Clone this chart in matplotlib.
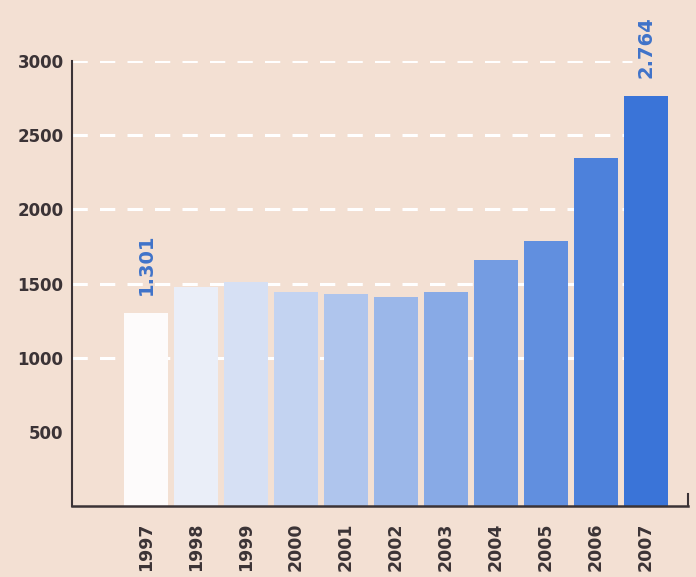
import matplotlib
matplotlib.use("Agg")
import matplotlib.pyplot as plt
from matplotlib.colors import LinearSegmentedColormap
import numpy as np

years = ["1997", "1998", "1999", "2000", "2001", "2002", "2003", "2004", "2005", "2006", "2007"]
values = [1301, 1480, 1510, 1446, 1432, 1412, 1446, 1662, 1784, 2345, 2764]
yticks = [500, 1000, 1500, 2000, 2500, 3000]
labelled = {0: "1.301", 10: "2.764"}

bg = "#f3e0d3"
txt = "#3b3336"
blue_txt = "#3f73c9"

fig = plt.figure(figsize=(6.96, 5.77), dpi=100, facecolor=bg)
ax = fig.add_axes([0.1034, 0.123, 0.885, 0.771])
ax.set_facecolor(bg)

x = np.arange(len(years))
cmap = LinearSegmentedColormap.from_list("fade", ["#fdfbfb", "#3a74d8"])
colors = [cmap(i / (len(years) - 1)) for i in range(len(years))]

# dashed white guides behind the bars
for t in yticks[1:]:
    ax.axhline(t, xmax=0.91, color="white", lw=2.2, ls=(0, (5, 4)), zorder=1)

ax.bar(x, values, width=0.89, color=colors, zorder=2)

for i, s in labelled.items():
    ax.text(x[i], values[i] + 125, s, rotation=90, ha="center", va="bottom",
            color=blue_txt, fontsize=14, fontweight="bold", clip_on=False)

ax.set_xlim(-1.48, 10.84)
ax.set_ylim(0, 3000)
ax.set_yticks(yticks)
ax.set_yticklabels([str(t) for t in yticks], fontsize=12, fontweight="bold", color=txt)
ax.set_xticks(x)
ax.set_xticklabels(years, rotation=90, fontsize=12.5, fontweight="bold", color=txt)
ax.tick_params(axis="y", length=0, pad=6)
ax.tick_params(axis="x", length=0, pad=12)

ax.spines["top"].set_visible(False)
ax.spines["left"].set_color(txt)
ax.spines["left"].set_linewidth(1.5)
ax.spines["bottom"].set_color(txt)
ax.spines["bottom"].set_linewidth(1.8)
ax.spines["right"].set_color(txt)
ax.spines["right"].set_linewidth(1.5)
ax.spines["right"].set_bounds(0, 80)

fig.savefig("out.png", dpi=100, facecolor=bg)
